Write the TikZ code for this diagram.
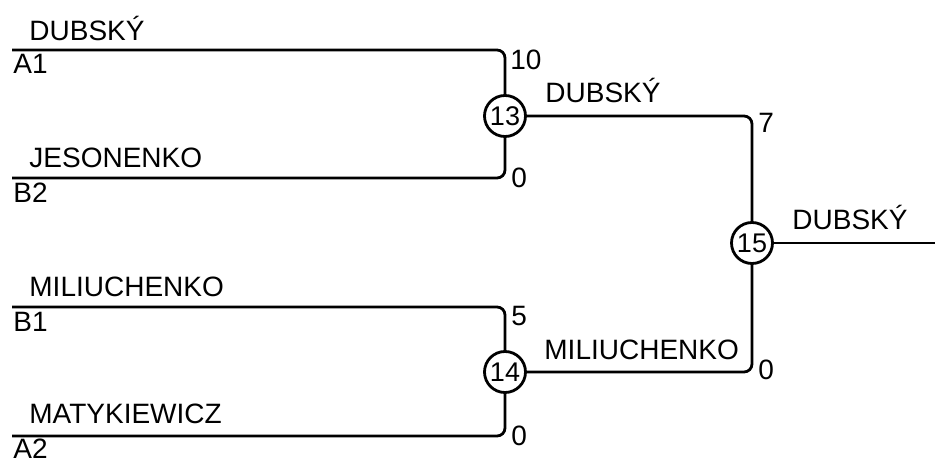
\documentclass[tikz,border=0pt]{standalone}
\usepackage{fontspec}
\setmainfont{Liberation Sans}
\begin{document}
\begin{tikzpicture}[x=1pt,y=-1pt,line width=2.8pt,
  lbl/.style={font=\fontsize{28}{32}\selectfont,inner sep=0pt,anchor=base west},
  game/.style={circle,draw,minimum size=41pt,inner sep=0pt,font=\fontsize{27}{30}\selectfont},
  link/.style={rounded corners=8pt}]
\useasboundingbox (0,0) rectangle (935,462);
% games
\node[game] (g13) at (505,116) {13};
\node[game] (g14) at (505,372) {14};
\node[game] (g15) at (752,243) {15};
% first-round entries
\coordinate (a1) at (12,50);
\coordinate (b2) at (12,178);
\coordinate (b1) at (12,307);
\coordinate (a2) at (12,436);
\coordinate (fin) at (935,243);
\draw[link] (a1) -- (g13.north |- a1) -- (g13.north);
\draw[link] (b2) -- (g13.south |- b2) -- (g13.south);
\draw[link] (b1) -- (g14.north |- b1) -- (g14.north);
\draw[link] (a2) -- (g14.south |- a2) -- (g14.south);
\draw[link] (g13.east) -- (g15.north |- g13.east) -- (g15.north);
\draw[link] (g14.east) -- (g15.south |- g14.east) -- (g15.south);
\draw (g15.east) -- (fin);
% names
\node[lbl] (n1) at (28,41) {DUBSKÝ};
\node[lbl] (s1) at (12,74) {A1};
\node[lbl] (n2) at (28,168) {JESONENKO};
\node[lbl] (s2) at (12,203) {B2};
\node[lbl] (n3) at (28,297) {MILIUCHENKO};
\node[lbl] (s3) at (12,332) {B1};
\node[lbl] (n4) at (28,424) {MATYKIEWICZ};
\node[lbl] (s4) at (12,458) {A2};
\node[lbl] (w13) at (544,103) {DUBSKÝ};
\node[lbl] (w14) at (543,360) {MILIUCHENKO};
\node[lbl] (w15) at (791,230) {DUBSKÝ};
% scores
\node[lbl] (sc1) at (509,70) {10};
\node[lbl] (sc2) at (510,188) {0};
\node[lbl] (sc3) at (510,326) {5};
\node[lbl] (sc4) at (510,445) {0};
\node[lbl] (sc5) at (757,133) {7};
\node[lbl] (sc6) at (757,380) {0};
\end{tikzpicture}
\end{document}
